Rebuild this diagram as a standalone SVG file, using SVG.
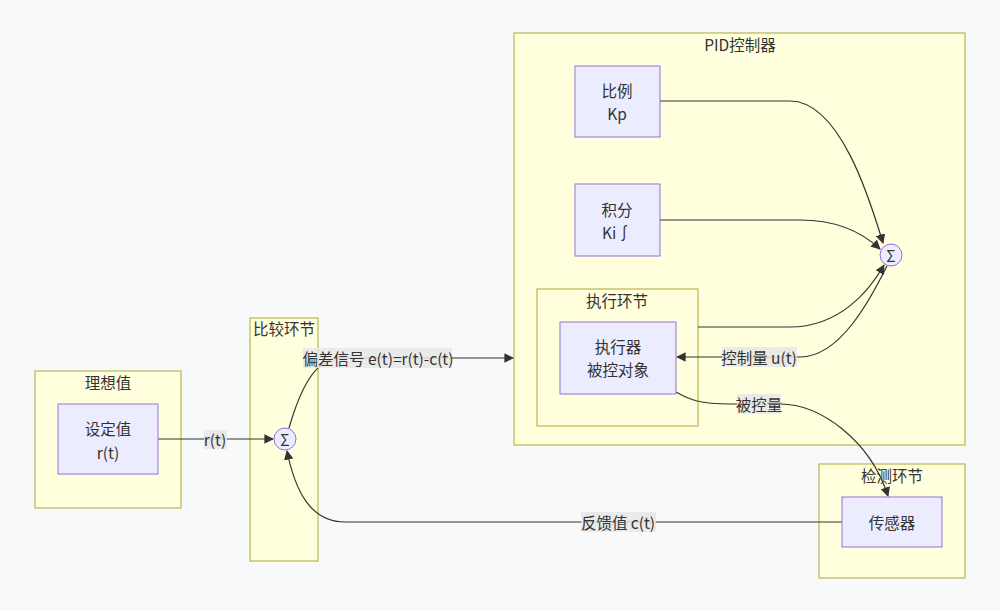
<svg xmlns="http://www.w3.org/2000/svg" width="1000" height="611" viewBox="0 0 1000 611">
<style>
text{font-family:"Noto Sans CJK SC","Liberation Sans",sans-serif;font-size:15.5px;fill:#333;text-anchor:middle;dominant-baseline:central}
.cl{fill:#ffffde;stroke:#aaaa33;stroke-width:1}
.nd{fill:#ececff;stroke:#9370db;stroke-width:1}
.e{fill:none;stroke:#333;stroke-width:1.2;marker-end:url(#a)}
.lb{fill:#e8e8e8;opacity:0.85}
</style>
<defs><marker id="a" viewBox="0 0 10 10" refX="9" refY="5" markerWidth="8" markerHeight="8" orient="auto"><path d="M0,0L10,5L0,10z" fill="#333"/></marker></defs>
<rect width="1000" height="611" fill="#f8f9fb"/>
<g id="c-ideal"><rect class="cl" x="35" y="371" width="146" height="137"/><text x="108" y="382">理想值</text></g>
<g id="c-cmp"><rect class="cl" x="250" y="318" width="68" height="243"/><text x="284" y="328">比较环节</text></g>
<g id="c-pid"><rect class="cl" x="514" y="33" width="451" height="412"/><text x="740" y="44">PID控制器</text></g>
<g id="c-exec"><rect class="cl" x="537" y="289" width="161" height="137"/><text x="617" y="300">执行环节</text></g>
<g id="c-det"><rect class="cl" x="819" y="464" width="146" height="114"/><text x="892" y="475">检测环节</text></g>
<g id="edges">
<path class="e" d="M158,439L273,439"/>
<path class="e" d="M289,428C300,390 315,358 340,358L513,358"/>
<path class="e" d="M660,101L790,101C840,101 870,200 883,243"/>
<path class="e" d="M660,220L800,220C840,220 865,235 880,249"/>
<path class="e" d="M698,327L790,327C840,327 870,290 884,265"/>
<path class="e" d="M887,266C870,300 840,357 800,357L677,357"/>
<path class="e" d="M676,392C690,400 700,404 730,404L780,404C820,404 870,440 888,496"/>
<path class="e" d="M842,522L345,522C310,522 295,490 287,451"/>
<rect class="lb" x="204" y="430" width="23" height="19"/><text x="215" y="439">r(t)</text>
<rect class="lb" x="303" y="348" width="149" height="20"/><text x="378" y="358">偏差信号 e(t)=r(t)-c(t)</text>
<rect class="lb" x="722" y="347" width="75" height="20"/><text x="759" y="357">控制量 u(t)</text>
<rect class="lb" x="737" y="394" width="44" height="20"/><text x="759" y="404">被控量</text>
<rect class="lb" x="581" y="512" width="75" height="20"/><text x="618" y="522">反馈值 c(t)</text>
</g>
<g id="n-set"><rect class="nd" x="58" y="404" width="100" height="70"/><text x="108" y="428">设定值</text><text x="108" y="452">r(t)</text></g>
<g id="n-sum1"><circle class="nd" cx="285" cy="439" r="11"/><text x="285" y="439">Σ</text></g>
<g id="n-p"><rect class="nd" x="575" y="66" width="85" height="71"/><text x="617" y="90">比例</text><text x="617" y="113">Kp</text></g>
<g id="n-i"><rect class="nd" x="575" y="184" width="85" height="72"/><text x="617" y="209">积分</text><text x="617" y="232">Ki∫</text></g>
<g id="n-sum2"><circle class="nd" cx="891" cy="255" r="11"/><text x="891" y="255">Σ</text></g>
<g id="n-act"><rect class="nd" x="560" y="322" width="116" height="72"/><text x="618" y="346">执行器</text><text x="618" y="369">被控对象</text></g>
<g id="n-sensor"><rect class="nd" x="842" y="497" width="100" height="50"/><text x="892" y="522">传感器</text></g>
</svg>
